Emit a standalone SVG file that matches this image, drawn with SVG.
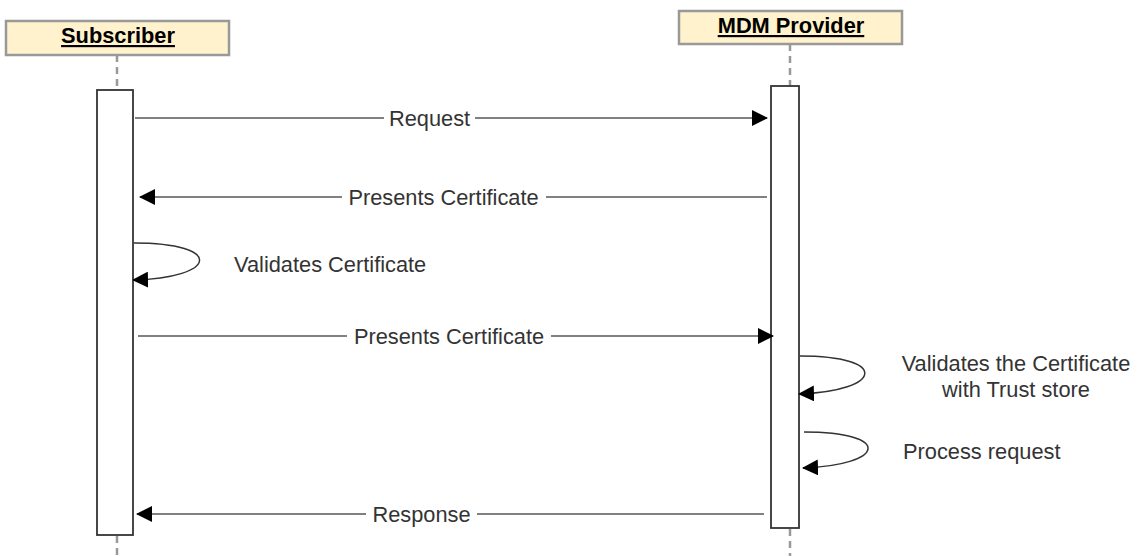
<svg xmlns="http://www.w3.org/2000/svg" width="1137" height="556" viewBox="0 0 1137 556">
<defs>
<marker id="ah" viewBox="0 0 16 16" refX="15" refY="8" markerWidth="16" markerHeight="16" markerUnits="userSpaceOnUse" orient="auto">
<path d="M0,0 L16,8 L0,16 Z" fill="#000"/>
</marker>
</defs>
<style>
.hdr{fill:#fff2cc;stroke:#999;stroke-width:2.5}
.hdrt{font-family:"Liberation Sans",Arial,sans-serif;font-size:21.8px;font-weight:bold;text-decoration:underline;fill:#000;text-anchor:middle}
.life{stroke:#999;stroke-width:2.5;stroke-dasharray:7 5;fill:none}
.act{fill:#fff;stroke:#333;stroke-width:1.8}
.msg{stroke:#808080;stroke-width:2.2;fill:none;marker-end:url(#ah)}
.loop{stroke:#333;stroke-width:1.5;fill:none;marker-end:url(#ah)}
.lbl{font-family:"Liberation Sans",Arial,sans-serif;font-size:21.8px;fill:#333}
.bg{fill:#fff}
</style>
<g id="subscriber">
<rect class="hdr" x="6" y="21" width="223" height="34"/>
<text class="hdrt" x="118" y="43">Subscriber</text>
<line class="life" x1="117" y1="55" x2="117" y2="90"/>
<rect class="act" x="97" y="90" width="36" height="445"/>
<line class="life" x1="117" y1="536" x2="117" y2="556"/>
</g>
<g id="mdm-provider">
<rect class="hdr" x="679" y="11" width="223" height="33"/>
<text class="hdrt" x="791" y="33">MDM Provider</text>
<line class="life" x1="790" y1="44" x2="790" y2="86"/>
<rect class="act" x="771" y="86" width="28" height="442"/>
<line class="life" x1="790" y1="529" x2="790" y2="556"/>
</g>
<g id="connectors">
<line class="msg" x1="135" y1="118" x2="767" y2="118"/>
<rect class="bg" x="384" y="105" width="91" height="26"/>
<text class="lbl" x="429.5" y="125.5" text-anchor="middle">Request</text>

<line class="msg" x1="767" y1="197" x2="140" y2="197"/>
<rect class="bg" x="342" y="184" width="204" height="26"/>
<text class="lbl" x="443.5" y="204.5" text-anchor="middle">Presents Certificate</text>

<path class="loop" d="M134,243 C225,243 218,278 133,280"/>
<text class="lbl" x="234" y="272">Validates Certificate</text>

<line class="msg" x1="138" y1="336" x2="773" y2="336"/>
<rect class="bg" x="347" y="323" width="204" height="26"/>
<text class="lbl" x="449" y="343.5" text-anchor="middle">Presents Certificate</text>

<path class="loop" d="M800,356 C890,356 883,391 799,394"/>
<text class="lbl" x="1016" y="371" text-anchor="middle">Validates the Certificate</text>
<text class="lbl" x="1016" y="397" text-anchor="middle">with Trust store</text>

<path class="loop" d="M804,432 C893,432 886,465 803,468"/>
<text class="lbl" x="903" y="459">Process request</text>

<line class="msg" x1="764" y1="514" x2="137" y2="514"/>
<rect class="bg" x="366" y="501" width="111" height="26"/>
<text class="lbl" x="421.5" y="521.5" text-anchor="middle">Response</text>
</g>
</svg>
